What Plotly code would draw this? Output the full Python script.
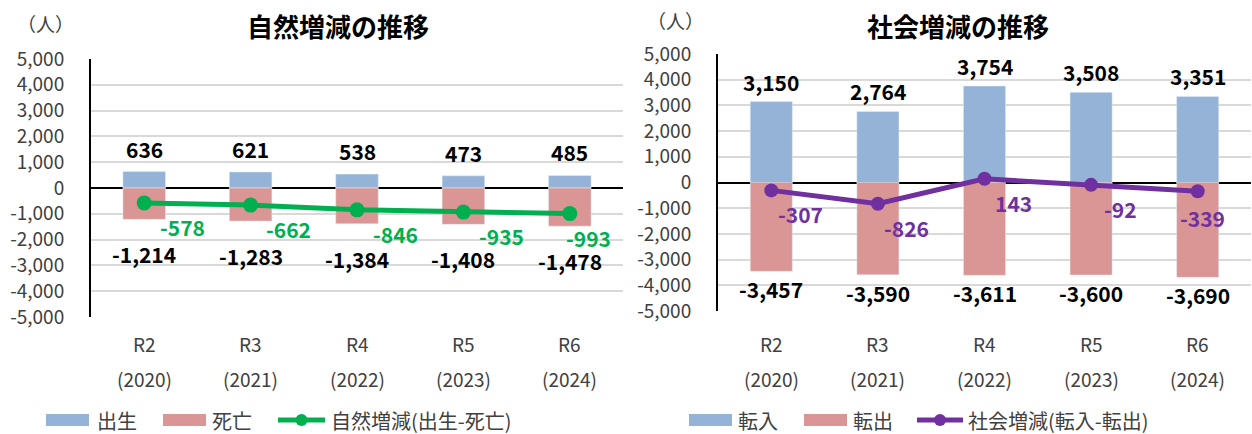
import plotly.graph_objects as go

# ---- data ----
categories = ["R2", "R3", "R4", "R5", "R6"]
years = ["(2020)", "(2021)", "(2022)", "(2023)", "(2024)"]
births = [636, 621, 538, 473, 485]
deaths = [-1214, -1283, -1384, -1408, -1478]
natural = [-578, -662, -846, -935, -993]
moves_in = [3150, 2764, 3754, 3508, 3351]
moves_out = [-3457, -3590, -3611, -3600, -3690]
social = [-307, -826, 143, -92, -339]
y_ticks = [5000, 4000, 3000, 2000, 1000, 0, -1000, -2000, -3000, -4000, -5000]

FONT = "Noto Sans CJK JP"
BLUE = "#95B3D7"
RED = "#DA9694"
GREEN = "#00B050"
PURPLE = "#7030A0"
W, H = 1252, 434


def fmt(v):
    return f"{v:,}"


fig = go.Figure()

# left chart
fig.add_trace(go.Bar(x=categories, y=births, marker_color=BLUE, width=0.40, xaxis="x", yaxis="y", name="出生"))
fig.add_trace(go.Bar(x=categories, y=deaths, marker_color=RED, width=0.40, xaxis="x", yaxis="y", name="死亡"))
fig.add_trace(go.Scatter(x=categories, y=natural, mode="lines+markers", line=dict(color=GREEN, width=5),
                         marker=dict(size=15, color=GREEN), xaxis="x", yaxis="y", name="自然増減(出生-死亡)"))
# right chart
fig.add_trace(go.Bar(x=categories, y=moves_in, marker_color=BLUE, width=0.395, xaxis="x2", yaxis="y2", name="転入"))
fig.add_trace(go.Bar(x=categories, y=moves_out, marker_color=RED, width=0.395, xaxis="x2", yaxis="y2", name="転出"))
fig.add_trace(go.Scatter(x=categories, y=social, mode="lines+markers", line=dict(color=PURPLE, width=5),
                         marker=dict(size=14, color=PURPLE), xaxis="x2", yaxis="y2", name="社会増減(転入-転出)"))

annotations = []
shapes = []

def px2x(p):
    return p / W

def px2y(p):
    return 1 - p / H

def ann(**kw):
    kw.setdefault("xanchor", "center")
    kw.setdefault("yanchor", "middle")
    kw.setdefault("showarrow", False)
    annotations.append(kw)

# bar value labels
for xa, ya, pos, neg, up, down in [("x", "y", births, deaths, 23, 35), ("x2", "y2", moves_in, moves_out, 20, 18)]:
    for c, p, n in zip(categories, pos, neg):
        ann(x=c, y=p, xref=xa, yref=ya, text=f"<b>{fmt(p)}</b>", yshift=up,
            font=dict(size=21, color="#000000", family=FONT))
        ann(x=c, y=n, xref=xa, yref=ya, text=f"<b>{fmt(n)}</b>", yshift=-down,
            font=dict(size=21, color="#000000", family=FONT))

# line labels (placed right-below each point; the last one is pulled in to stay inside the plot)
n_pts = len(categories)
for i, (c, v) in enumerate(zip(categories, natural)):
    last = i == n_pts - 1
    ann(x=c, y=v, xref="x", yref="y", text=f"<b>{fmt(v)}</b>", xshift=19 if last else 38, yshift=-24,
        font=dict(size=21, color=GREEN, family=FONT))
for i, (c, v) in enumerate(zip(categories, social)):
    last = i == n_pts - 1
    ann(x=c, y=v, xref="x2", yref="y2", text=f"<b>{fmt(v)}</b>", xshift=5 if last else 29,
        yshift=-27 if last else -24, font=dict(size=21, color=PURPLE, family=FONT))

# x category labels (two lines)
for xa in ["x", "x2"]:
    for c, yr in zip(categories, years):
        ann(x=c, y=px2y(343), xref=xa, yref="paper", text=c, font=dict(size=19, color="#404040", family=FONT))
        ann(x=c, y=px2y(378), xref=xa, yref="paper", text=yr, font=dict(size=19, color="#404040", family=FONT))

# titles and unit labels
ann(x=px2x(338), y=px2y(26), xref="paper", yref="paper", text="<b>自然増減の推移</b>",
    font=dict(size=26, color="#000000", family=FONT))
ann(x=px2x(958), y=px2y(26), xref="paper", yref="paper", text="<b>社会増減の推移</b>",
    font=dict(size=26, color="#000000", family=FONT))
ann(x=px2x(45), y=px2y(24), xref="paper", yref="paper", text="（人）",
    font=dict(size=19, color="#404040", family=FONT))
ann(x=px2x(675), y=px2y(20), xref="paper", yref="paper", text="（人）",
    font=dict(size=19, color="#404040", family=FONT))

# custom legends
LEG_Y = 420
def legend_items(items):
    for kind, color, x0, x1, tx, label in items:
        if kind == "bar":
            shapes.append(dict(type="rect", xref="paper", yref="paper", x0=px2x(x0), x1=px2x(x1),
                               y0=px2y(LEG_Y + 6), y1=px2y(LEG_Y - 6), fillcolor=color, line=dict(width=0)))
        else:
            shapes.append(dict(type="line", xref="paper", yref="paper", x0=px2x(x0), x1=px2x(x1),
                               y0=px2y(LEG_Y), y1=px2y(LEG_Y), line=dict(color=color, width=5)))
            m = (x0 + x1) / 2
            shapes.append(dict(type="circle", xref="paper", yref="paper", x0=px2x(m - 6), x1=px2x(m + 6),
                               y0=px2y(LEG_Y + 6), y1=px2y(LEG_Y - 6), fillcolor=color, line=dict(width=0)))
        ann(x=px2x(tx), y=px2y(LEG_Y), xref="paper", yref="paper", text=label, xanchor="left",
            font=dict(size=20, color="#404040", family=FONT))

legend_items([("bar", BLUE, 46, 89, 95, "出生"), ("bar", RED, 163, 206, 210, "死亡"),
              ("line", GREEN, 278, 325, 329, "自然増減(出生-死亡)")])
legend_items([("bar", BLUE, 689, 732, 736, "転入"), ("bar", RED, 804, 847, 851, "転出"),
              ("line", PURPLE, 917, 963, 966, "社会増減(転入-転出)")])

yaxis_common = dict(range=[-5000, 5000], tickvals=y_ticks, ticktext=[fmt(v) for v in y_ticks],
                    showgrid=True, gridcolor="#D9D9D9", gridwidth=2, zeroline=True, zerolinecolor="#000000",
                    zerolinewidth=1.5, showline=True, linecolor="#000000", linewidth=2, ticks="",
                    tickfont=dict(size=19, color="#404040", family=FONT), ticklabelstandoff=21,
                    automargin=False)
xaxis_common = dict(type="category", showticklabels=False, showgrid=False, zeroline=False, showline=False,
                    range=[-0.5, 4.5], automargin=False)

fig.update_layout(
    width=W, height=H, margin=dict(l=0, r=0, t=0, b=0, pad=0),
    paper_bgcolor="white", plot_bgcolor="white",
    barmode="overlay", showlegend=False,
    font=dict(family=FONT),
    xaxis=dict(domain=[px2x(91), px2x(623)], anchor="y", **xaxis_common),
    yaxis=dict(domain=[px2y(317), px2y(59)], anchor="x", **yaxis_common),
    xaxis2=dict(domain=[px2x(718), px2x(1251)], anchor="y2", **xaxis_common),
    yaxis2=dict(domain=[px2y(311), px2y(54)], anchor="x2", **yaxis_common),
    annotations=annotations, shapes=shapes,
)

fig.write_html("out.html", config={"displayModeBar": False},
               post_script="document.body.style.margin='0px';document.body.style.overflow='hidden';")
